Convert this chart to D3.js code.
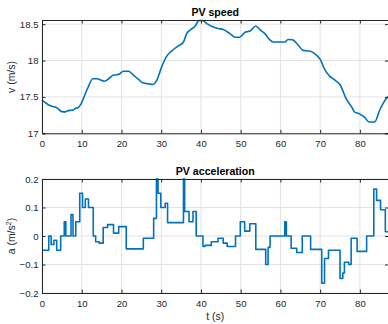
<!DOCTYPE html>
<html>
<head>
<meta charset="utf-8">
<script src="https://cdn.jsdelivr.net/npm/d3@7"></script>
<style>
  body { margin: 0; background: #fff; }
  svg { display: block; font-family: "Liberation Sans", Arial, sans-serif; }
</style>
</head>
<body>
<div id="chart"></div>
<script>
// speed trace (t in s, v in m/s)
const speedTime = [0, 1.7, 2.5, 3.8, 5.0, 5.9, 6.3, 7.1, 7.8, 8.4, 9.0, 9.8, 10.5, 11.5, 12.8, 13.8, 15.7, 16.8, 18.0, 19.3, 20.5, 21.8, 23.0, 24.3, 25.5, 26.8, 27.9, 28.9, 30.1, 31.4, 32.6, 34.3, 35.6, 36.4, 37.3, 38.5, 39.5, 40.4, 41.5, 43.1, 44.4, 45.6, 47.3, 48.6, 49.7, 51.1, 52.4, 53.8, 54.9, 56.1, 57.2, 58.2, 59.9, 61.1, 61.9, 63.0, 64.5, 65.7, 67.4, 68.6, 70.1, 71.2, 72.4, 73.7, 75.1, 76.5, 77.9, 78.7, 79.8, 81.2, 82.3, 83.7, 85.0, 86.7, 87.2];
const speedValue = [17.456, 17.39, 17.373, 17.35, 17.298, 17.295, 17.305, 17.315, 17.318, 17.342, 17.35, 17.40, 17.49, 17.62, 17.75, 17.75, 17.716, 17.75, 17.80, 17.81, 17.853, 17.853, 17.80, 17.74, 17.69, 17.68, 17.67, 17.73, 17.91, 18.06, 18.13, 18.20, 18.255, 18.37, 18.42, 18.47, 18.55, 18.55, 18.507, 18.46, 18.44, 18.425, 18.37, 18.32, 18.32, 18.39, 18.405, 18.474, 18.42, 18.37, 18.29, 18.255, 18.255, 18.255, 18.29, 18.285, 18.21, 18.14, 18.13, 18.096, 18.01, 17.87, 17.785, 17.73, 17.66, 17.48, 17.365, 17.29, 17.27, 17.22, 17.155, 17.155, 17.32, 17.48, 17.51];

// acceleration steps (start time, value)
const accTime = [0, 1.7, 2.3, 3.0, 3.7, 4.7, 5.6, 6.0, 7.3, 7.8, 8.5, 9.5, 10.2, 10.9, 11.7, 12.9, 13.5, 14.4, 15.4, 16.5, 18.0, 19.3, 21.2, 25.5, 28.1, 28.8, 29.2, 29.9, 31.0, 31.6, 35.6, 35.9, 37.0, 38.0, 38.8, 40.5, 41.0, 42.6, 44.3, 45.6, 46.6, 48.7, 49.9, 51.0, 52.3, 53.8, 56.3, 56.9, 57.4, 61.1, 61.5, 62.7, 64.1, 65.5, 67.6, 70.4, 71.1, 72.1, 75.0, 75.7, 76.1, 77.2, 77.8, 79.3, 81.7, 83.5, 84.2, 85.2, 86.4, 87.2];
const accValue = [-0.05, 0, -0.03, -0.015, -0.05, 0, 0.05, 0, 0.075, 0, 0.05, 0.15, 0.1, 0.13, 0.1, 0, -0.02, -0.025, 0.03, 0.04, 0.01, 0.033, -0.045, -0.008, 0.062, 0.2, 0.15, 0.1, 0.115, 0.047, 0.2, 0.086, 0.05, 0.086, 0, -0.037, -0.033, -0.02, -0.008, -0.025, -0.037, 0, 0.05, 0.017, 0.043, -0.047, -0.1, -0.04, 0, 0.05, 0, -0.043, -0.058, 0, -0.047, -0.166, -0.079, -0.05, -0.149, -0.13, -0.092, -0.1, -0.008, -0.054, 0, 0.165, 0.125, 0.092, 0.015, 0.015];

const xTicks = [0, 10, 20, 30, 40, 50, 60, 70, 80];
const speedTicks = [17, 17.5, 18, 18.5];
const accTicks = [-0.2, -0.1, 0, 0.1, 0.2];

const width = 388, height = 324;
const left = 42, right = 388.5;
const ink = "#262626", grid = "#e3e3e3", lineColor = "#0072bd";

const svg = d3.select("#chart").append("svg")
  .attr("width", width).attr("height", height);

const x = d3.scaleLinear().domain([0, 87.2]).range([left, right]);

function panel(top, bottom, yDomain, yTicks, title, drawLine) {
  const y = d3.scaleLinear().domain(yDomain).range([bottom, top]);
  const g = svg.append("g");

  // grid
  g.append("g").selectAll("line").data(xTicks).join("line")
    .attr("x1", d => x(d)).attr("x2", d => x(d))
    .attr("y1", top).attr("y2", bottom)
    .attr("stroke", grid).attr("stroke-width", 1);
  g.append("g").selectAll("line").data(yTicks).join("line")
    .attr("x1", left).attr("x2", right)
    .attr("y1", d => y(d)).attr("y2", d => y(d))
    .attr("stroke", grid).attr("stroke-width", 1);

  drawLine(g, y);

  // box with inward ticks
  const axes = [
    [d3.axisBottom(x).tickValues(xTicks).tickSize(-3.5).tickPadding(7), `translate(0,${bottom})`, true],
    [d3.axisTop(x).tickValues(xTicks).tickSize(-3.5), `translate(0,${top})`, false],
    [d3.axisLeft(y).tickValues(yTicks).tickFormat(d3.format("")).tickSize(-3.5).tickPadding(3.5), `translate(${left},0)`, true],
    [d3.axisRight(y).tickValues(yTicks).tickSize(-3.5), `translate(${right},0)`, false]
  ];
  axes.forEach(([ax, tr, labels]) => {
    const a = g.append("g").attr("transform", tr).call(ax);
    a.select(".domain").attr("stroke", ink).attr("stroke-width", 1);
    a.selectAll(".tick line").attr("stroke", ink).attr("stroke-width", 1);
    a.selectAll("text").attr("fill", ink).attr("font-size", 9.6)
      .attr("font-family", "Liberation Sans, Arial, sans-serif");
    if (!labels) a.selectAll("text").remove();
  });

  svg.append("text")
    .attr("x", (left + right) / 2).attr("y", top - 4)
    .attr("text-anchor", "middle").attr("font-weight", "bold")
    .attr("font-size", 10.6).attr("fill", "#000")
    .text(title);
  return y;
}

panel(20, 133.3, [17, 18.557], speedTicks, "PV speed", (g, y) => {
  const pts = speedTime.map((t, i) => [t, speedValue[i]]);
  g.append("path").datum(pts)
    .attr("fill", "none").attr("stroke", lineColor).attr("stroke-width", 1.6)
    .attr("stroke-linejoin", "round")
    .attr("d", d3.line().x(d => x(d[0])).y(d => y(d[1])).curve(d3.curveMonotoneX));
});

panel(179, 293, [-0.2, 0.2], accTicks, "PV acceleration", (g, y) => {
  const pts = accTime.map((t, i) => [t, accValue[i]]);
  g.append("path").datum(pts)
    .attr("fill", "none").attr("stroke", lineColor).attr("stroke-width", 1.6)
    .attr("stroke-linejoin", "round")
    .attr("d", d3.line().x(d => x(d[0])).y(d => y(d[1])).curve(d3.curveStepAfter));
});

svg.append("text")
  .attr("transform", "translate(15,77) rotate(-90)")
  .attr("text-anchor", "middle").attr("font-size", 10.4).attr("fill", ink)
  .text("v (m/s)");

const aLabel = svg.append("text")
  .attr("transform", "translate(15,236) rotate(-90)")
  .attr("text-anchor", "middle").attr("font-size", 10.4).attr("fill", ink);
aLabel.append("tspan").text("a (m/s");
aLabel.append("tspan").attr("font-size", 7.5).attr("dy", -4).text("2");
aLabel.append("tspan").attr("dy", 4).text(")");

svg.append("text")
  .attr("x", (left + right) / 2).attr("y", 320)
  .attr("text-anchor", "middle").attr("font-size", 10.4).attr("fill", ink)
  .text("t (s)");
</script>
</body>
</html>
